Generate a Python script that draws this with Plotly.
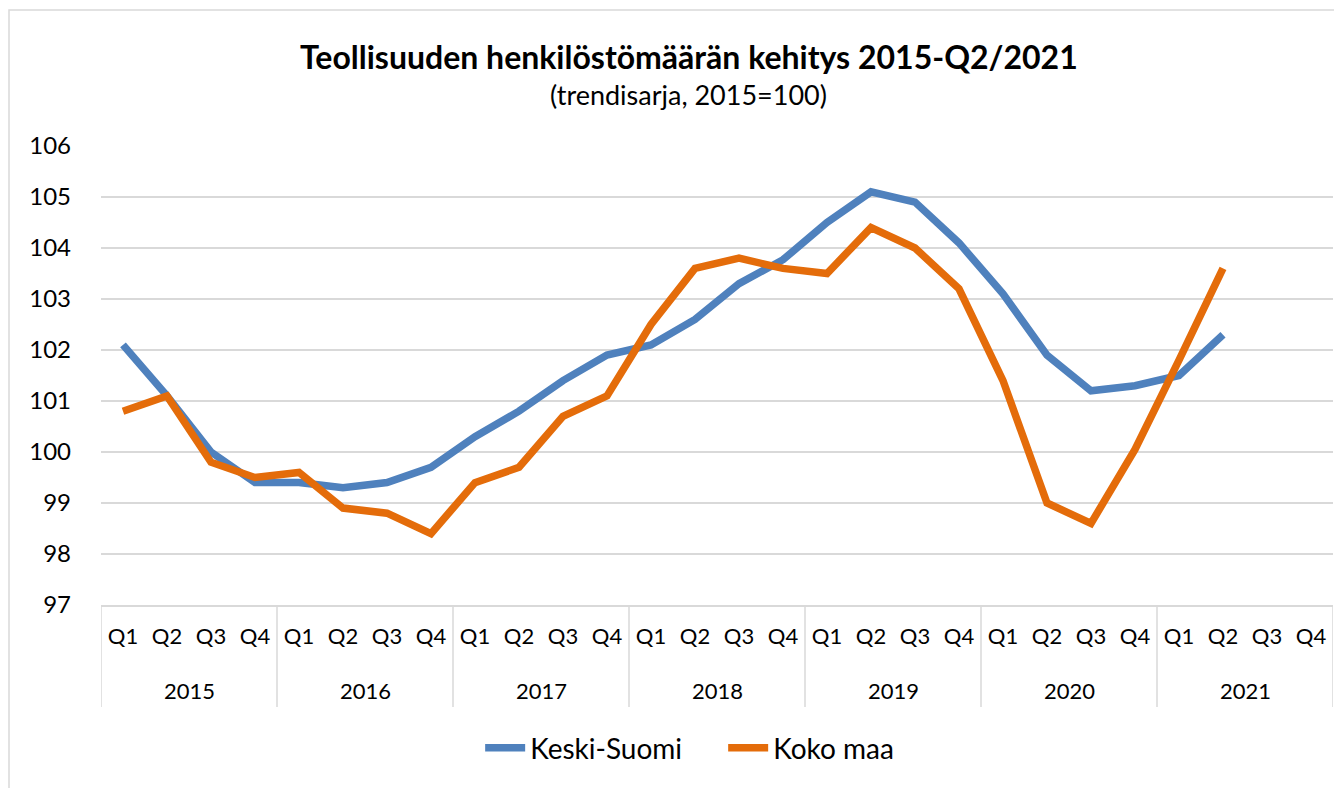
import plotly.graph_objects as go

years = ["2015", "2016", "2017", "2018", "2019", "2020", "2021"]
quarters = ["Q1", "Q2", "Q3", "Q4"]

keski_suomi = [102.1, 101.1, 100.0, 99.4,
               99.4, 99.3, 99.4, 99.7,
               100.3, 100.8, 101.4, 101.9,
               102.1, 102.6, 103.3, 103.77,
               104.5, 105.1, 104.9, 104.1,
               103.1, 101.9, 101.2, 101.3,
               101.5, 102.3, None, None]
koko_maa = [100.8, 101.1, 99.8, 99.5,
            99.6, 98.9, 98.8, 98.4,
            99.4, 99.7, 100.7, 101.1,
            102.5, 103.6, 103.8, 103.6,
            103.5, 104.4, 104.0, 103.2,
            101.4, 99.0, 98.6, 100.05,
            101.8, 103.6, None, None]

n_q = len(quarters)
x_idx = list(range(len(years) * n_q))
q_labels = [q for _ in years for q in quarters]

FONT = "Lato"
fig = go.Figure()
fig.add_trace(go.Scatter(x=x_idx, y=keski_suomi, mode="lines", name="Keski-Suomi",
                         line=dict(color="#4F81BD", width=7.5), connectgaps=False))
fig.add_trace(go.Scatter(x=x_idx, y=koko_maa, mode="lines", name="Koko maa",
                         line=dict(color="#E46C0A", width=7.5), connectgaps=False))

PH = 459.0
annotations = [
    dict(text="<b>Teollisuuden henkilöstömäärän kehitys 2015-Q2/2021</b>", xref="paper", yref="paper",
         x=0.477, y=1.0 + (146 - 57) / PH, xanchor="center", yanchor="middle", showarrow=False,
         font=dict(size=32, family=FONT)),
    dict(text="(trendisarja, 2015=100)", xref="paper", yref="paper",
         x=0.477, y=1.0 + (146 - 95) / PH, xanchor="center", yanchor="middle", showarrow=False,
         font=dict(size=27, family=FONT)),
]
for i, yr in enumerate(years):
    annotations.append(dict(text=yr, xref="x", yref="paper", x=i * n_q + (n_q - 1) / 2,
                            y=(605 - 690) / PH, xanchor="center", yanchor="middle", showarrow=False,
                            font=dict(size=22, family=FONT)))

shapes = [dict(type="rect", xref="paper", yref="paper",
               x0=(9 - 101) / 1232, x1=(1345 - 101) / 1232,
               y0=(605 - 790) / PH, y1=1 + (146 - 10) / PH,
               line=dict(color="#d9d9d9", width=1.5))]
for i in range(len(years) + 1):
    shapes.append(dict(type="line", xref="x", yref="paper", x0=i * n_q - 0.5, x1=i * n_q - 0.5,
                       y0=0, y1=(605 - 707) / PH, line=dict(color="#d9d9d9", width=1.5)))

fig.update_layout(
    width=1334, height=780,
    margin=dict(l=93, r=9, t=138, b=183, autoexpand=False),
    paper_bgcolor="white", plot_bgcolor="white",
    font=dict(family=FONT, size=22, color="#000000"),
    showlegend=True,
    legend=dict(orientation="h", x=0.505, xanchor="center", y=(605 - 748) / PH, yanchor="middle",
                font=dict(size=28), itemwidth=40, entrywidth=188),
    annotations=annotations,
    shapes=shapes,
)
fig.update_xaxes(range=[-0.5, len(x_idx) - 0.5], tickmode="array", tickvals=x_idx, ticktext=q_labels,
                 showgrid=False, showline=True, linecolor="#d9d9d9", linewidth=1.5, zeroline=False,
                 ticks="", tickfont=dict(size=22), ticklabelstandoff=11, automargin=False)
fig.update_yaxes(range=[97, 106], dtick=1, showgrid=True, gridcolor="#d9d9d9", gridwidth=1.5,
                 zeroline=False, showline=False, tickfont=dict(size=24), ticklabelstandoff=29,
                 automargin=False)

fig.write_html("out.html")
